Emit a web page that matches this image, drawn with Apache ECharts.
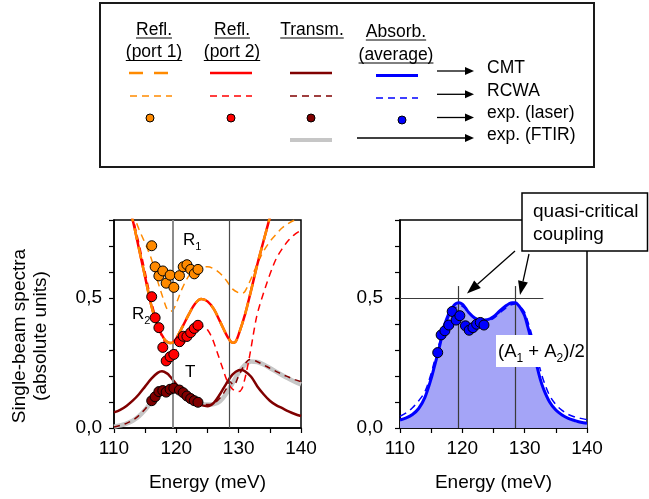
<!DOCTYPE html>
<html>
<head>
<meta charset="utf-8">
<script src="https://cdn.jsdelivr.net/npm/echarts@6/dist/echarts.min.js"></script>
<style>
html, body { margin: 0; padding: 0; background: #fff; }
#chart { width: 649px; height: 499px; }
</style>
</head>
<body>
<div id="chart"></div>
<script>
// ---------- spectra (energy in meV, single-beam values) ----------
// Reflection, coupled-mode theory (same curve for port 1 and port 2)
const rCmtE = [110,111,112,113,114,115,116,117,118,118.5,119,119.5,120,121,122,123,124,125,126,127,128,128.5,129,129.5,130,131,132,133,134,135,136];
const rCmtV = [1.05,0.97,0.89,0.80,0.69,0.58,0.47,0.39,0.345,0.332,0.327,0.330,0.345,0.39,0.437,0.478,0.496,0.487,0.458,0.41,0.36,0.34,0.328,0.332,0.36,0.435,0.53,0.63,0.72,0.81,0.90];

// Reflection port 1, RCWA
const r1RcwaE = [110,111,112,113,114,115,116,117,118,118.5,119,119.5,120,121,122,123,124,125,126,127,128,129,130,130.5,131,132,133,134,135,136,137,138,139,140];
const r1RcwaV = [1.05,0.97,0.90,0.83,0.765,0.71,0.65,0.565,0.49,0.458,0.448,0.455,0.48,0.54,0.585,0.61,0.618,0.62,0.612,0.595,0.568,0.535,0.52,0.518,0.525,0.575,0.632,0.68,0.717,0.745,0.77,0.787,0.80,0.81];

// Reflection port 2, RCWA
const r2RcwaE = [110,111,112,113,114,115,116,117,118,119,119.5,120,121,122,123,124,124.5,125,125.5,126,126.5,127,127.5,128,128.5,129,129.5,130,130.5,131,131.5,132,132.5,133,134,135,136,137,138,139,140];
const r2RcwaV = [1.05,0.96,0.89,0.81,0.71,0.60,0.49,0.40,0.335,0.30,0.296,0.30,0.32,0.35,0.375,0.39,0.39,0.378,0.358,0.33,0.295,0.26,0.225,0.19,0.165,0.15,0.142,0.14,0.15,0.19,0.245,0.31,0.38,0.44,0.52,0.59,0.65,0.69,0.722,0.745,0.76];

// Transmission, CMT
const tCmtE = [110,111,112,113,114,115,116,117,117.7,118.5,119,120,121,122,123,124,125,126,127,128,129,130,130.5,131,132,133,134,135,136,137,138,139,140];
const tCmtV = [0.06,0.07,0.085,0.105,0.13,0.16,0.19,0.212,0.218,0.21,0.198,0.168,0.14,0.116,0.098,0.088,0.084,0.097,0.13,0.17,0.205,0.222,0.223,0.218,0.197,0.16,0.13,0.105,0.088,0.076,0.064,0.054,0.046];

// Transmission, RCWA
const tRcwaE = [110,111,112,113,114,115,116,117,118,119,119.5,120,121,122,123,124,125,126,127,128,128.6,129.2,130,131,131.8,132.5,133,134,135,136,137,138,139,140];
const tRcwaV = [0.004,0.01,0.018,0.03,0.048,0.073,0.1,0.125,0.145,0.153,0.155,0.152,0.14,0.124,0.106,0.094,0.09,0.095,0.115,0.15,0.178,0.165,0.2,0.245,0.263,0.26,0.255,0.243,0.23,0.218,0.206,0.196,0.186,0.178];

// Transmission, FTIR measurement
const tFtirE = [110,111,112,113,114,115,116,117,118,119,120,121,122,123,124,125,126,127,128,129,130,131,132,133,134,135,136,137,138,139,140];
const tFtirV = [0.005,0.01,0.017,0.028,0.045,0.07,0.1,0.125,0.143,0.151,0.15,0.14,0.124,0.106,0.094,0.09,0.092,0.103,0.132,0.172,0.213,0.243,0.256,0.254,0.244,0.231,0.217,0.203,0.19,0.178,0.168];

// Laser measurements
const laserE  = [116.05,116.6,117.2,117.83,118.37,119.0,119.6,120.5,121.1,121.7,122.3,122.88,123.47];
const laserR1 = [0.701,0.62,0.585,0.604,0.557,0.588,0.541,0.586,0.62,0.628,0.61,0.593,0.61];
const laserR2 = [0.505,0.424,0.386,0.31,0.258,0.274,0.283,0.332,0.353,0.352,0.367,0.383,0.395];
const laserT  = [0.105,0.12,0.14,0.144,0.138,0.149,0.153,0.146,0.136,0.123,0.113,0.105,0.099];
const laserA  = [0.29,0.358,0.374,0.396,0.448,0.415,0.432,0.393,0.376,0.386,0.399,0.406,0.396];

// Averaged absorption (A1 + A2)/2
const aE = [110,111,112,113,114,115,115.5,116,116.5,117,117.5,118,118.5,119,119.5,120,120.5,121,122,123,124,125,126,127,127.5,128,128.5,129,129.5,130,130.5,131,131.5,132,132.5,133,134,135,136,137,138,139,140];
const aCmtV  = [0.031,0.039,0.052,0.075,0.118,0.19,0.235,0.28,0.33,0.385,0.42,0.448,0.467,0.479,0.482,0.476,0.462,0.445,0.423,0.415,0.416,0.428,0.45,0.47,0.478,0.482,0.482,0.472,0.455,0.432,0.39,0.345,0.29,0.235,0.188,0.152,0.1,0.069,0.05,0.037,0.029,0.022,0.018];
const aRcwaV = [0.045,0.058,0.078,0.105,0.14,0.21,0.255,0.3,0.34,0.38,0.41,0.435,0.453,0.465,0.47,0.468,0.458,0.443,0.42,0.41,0.412,0.422,0.442,0.462,0.47,0.475,0.477,0.473,0.462,0.445,0.41,0.37,0.32,0.27,0.225,0.185,0.125,0.09,0.068,0.052,0.043,0.037,0.032];

// Resonance positions and guide levels
const resonances = [119.5, 128.5];
const critLevel = 0.5;

// ---------- styling ----------
const FONT = '"Liberation Sans", Arial, Helvetica, sans-serif';
const ORANGE = '#ff8a00', RED = '#ff0000', DARKRED = '#800000', BLUE = '#0000ff';
const GRAY = '#c6c6c6', FILL = '#a4a4f7';

const pairs = (xs, ys) => xs.map((x, i) => [x, ys[i]]);

function xAxisCfg(gridIndex) {
  return {
    type: 'value', gridIndex, min: 110, max: 140, interval: 5,
    name: 'Energy (meV)', nameLocation: 'middle', nameGap: 45,
    nameTextStyle: { fontFamily: FONT, fontSize: 19, color: '#000' },
    axisLine: { show: true, onZero: false, lineStyle: { color: '#000', width: 1.5 } },
    axisTick: { show: true, inside: false, length: 5, lineStyle: { color: '#000', width: 1.2 } },
    axisLabel: { margin: 11, fontFamily: FONT, fontSize: 19, color: '#000',
      formatter: v => (Math.round(v) % 10 === 0 ? String(Math.round(v)) : '') },
    splitLine: { show: false }
  };
}
function yAxisCfg(gridIndex, margin) {
  return {
    type: 'value', gridIndex, min: 0, max: 0.8, interval: 0.1,
    axisLine: { show: true, onZero: false, lineStyle: { color: '#000', width: 1.5 } },
    axisTick: { show: true, inside: false, length: 5, lineStyle: { color: '#000', width: 1.2 } },
    axisLabel: { margin, fontFamily: FONT, fontSize: 19, color: '#000',
      formatter: v => (Math.abs(v) < 1e-6 ? '0,0' : Math.abs(v - 0.5) < 1e-6 ? '0,5' : '') },
    splitLine: { show: false }
  };
}
function lineSeries(axis, xs, ys, color, width, dash, z, extra) {
  return Object.assign({
    type: 'line', xAxisIndex: axis, yAxisIndex: axis,
    data: pairs(xs, ys), showSymbol: false, symbol: 'none', smooth: 0.35,
    lineStyle: { color, width, type: dash || 'solid' }, z, silent: true
  }, extra || {});
}
function dotSeries(axis, ys, color) {
  return {
    type: 'scatter', xAxisIndex: axis, yAxisIndex: axis, data: pairs(laserE, ys),
    symbol: 'circle', symbolSize: 10, z: 8, silent: true,
    itemStyle: { color, borderColor: '#000', borderWidth: 1, opacity: 1 }
  };
}
const vline = (x, top, color, width) => [
  { coord: [x, 0], lineStyle: { color, width, type: 'solid' } },
  { coord: [x, top] }
];
const markLineBase = { silent: true, symbol: ['none', 'none'], label: { show: false }, animation: false };

// ---------- annotation helpers ----------
const measureCtx = document.createElement('canvas').getContext('2d');
function textWidth(str, size) {
  measureCtx.font = size + 'px "Liberation Sans", Arial, sans-serif';
  return measureCtx.measureText(str).width;
}
function text(str, x, y, size, align, extra) {
  return Object.assign({
    type: 'text', x, y, z: 100, silent: true,
    style: { text: str, fill: '#000', fontSize: size, fontFamily: FONT,
      align: align || 'left', textAlign: align || 'left',
      verticalAlign: 'middle', textVerticalAlign: 'middle' }
  }, extra || {});
}
function seg(x1, y1, x2, y2, stroke, lineWidth, dash) {
  return { type: 'line', z: 100, silent: true, shape: { x1, y1, x2, y2 },
    style: { stroke, lineWidth, lineDash: dash || null } };
}
function arrow(x1, y1, x2, y2, len, half) {
  const a = Math.atan2(y2 - y1, x2 - x1);
  const bx = x2 - len * Math.cos(a), by = y2 - len * Math.sin(a);
  const px = -Math.sin(a) * half, py = Math.cos(a) * half;
  return [
    seg(x1, y1, bx, by, '#000', 1.3),
    { type: 'polygon', z: 100, silent: true,
      shape: { points: [[x2, y2], [bx + px, by + py], [bx - px, by - py]] },
      style: { fill: '#000' } }
  ];
}
function dot(cx, cy, fill) {
  return { type: 'circle', z: 100, silent: true, shape: { cx, cy, r: 4 },
    style: { fill, stroke: '#000', lineWidth: 1 } };
}
function underlined(str, cx, cy, size) {
  const w = textWidth(str, size);
  return [text(str, cx, cy, size, 'center'), seg(cx - w / 2, cy + 8, cx + w / 2, cy + 8, '#000', 1)];
}
function subscripted(parts, x, y, size, subSize, lh, subLh) {
  return {
    type: 'text', x, y, z: 101, silent: true,
    style: {
      text: parts.map(p => (p[1] ? '{s|' + p[0] + '}' : '{n|' + p[0] + '}')).join(''),
      align: 'left', textAlign: 'left', verticalAlign: 'middle', textVerticalAlign: 'middle',
      rich: {
        n: { fontSize: size, fontFamily: FONT, color: '#000', lineHeight: lh },
        s: { fontSize: subSize, fontFamily: FONT, color: '#000', lineHeight: subLh, verticalAlign: 'bottom' }
      }
    }
  };
}

// ---------- legend panel ----------
const LF = 17.5;
const legend = [
  { type: 'rect', z: 99, silent: true, shape: { x: 100, y: 3, width: 494, height: 164 },
    style: { fill: '#fff', stroke: '#1a1a1a', lineWidth: 2 } },
  ...underlined('Refl.', 154, 30, LF), ...underlined('(port 1)', 154, 52.5, LF),
  ...underlined('Refl.', 232, 30, LF), ...underlined('(port 2)', 232, 52.5, LF),
  ...underlined('Transm.', 312, 30, LF),
  ...underlined('Absorb.', 396, 32, LF), ...underlined('(average)', 396, 55, LF),
  // CMT row
  seg(129, 73, 168, 73, ORANGE, 2.5, [14, 11]),
  seg(210, 73, 252, 73, RED, 2.5),
  seg(290, 73, 332, 73, DARKRED, 2.5),
  seg(376, 75.5, 418, 75.5, BLUE, 3),
  // RCWA row
  seg(130, 96, 172, 96, ORANGE, 1.5, [7, 5]),
  seg(210, 96, 252, 96, RED, 1.5, [7, 5]),
  seg(290, 96, 332, 96, DARKRED, 1.5, [7, 5]),
  seg(376, 98, 418, 98, BLUE, 1.5, [7, 5]),
  // laser row
  dot(150, 118, ORANGE), dot(231, 118, RED), dot(311, 118, DARKRED), dot(402, 120, BLUE),
  // FTIR row
  seg(290, 140, 332, 140, GRAY, 4),
  ...arrow(437, 71, 474, 71, 9, 4),
  ...arrow(437, 94.3, 474, 94.3, 9, 4),
  ...arrow(437, 117.5, 474, 117.5, 9, 4),
  ...arrow(357, 138, 474, 138, 9, 4),
  text('CMT', 487, 68.5, LF), text('RCWA', 487, 91, LF),
  text('exp. (laser)', 487, 113.5, LF), text('exp. (FTIR)', 487, 135.5, LF)
];

// ---------- plot annotations ----------
const notes = [
  text('Single-beam spectra\n(absolute units)', 30.5, 336, 19, 'center',
    { rotation: Math.PI / 2, style: { text: 'Single-beam spectra\n(absolute units)', fill: '#000',
      fontSize: 19, fontFamily: FONT, lineHeight: 21, align: 'center', textAlign: 'center',
      verticalAlign: 'middle', textVerticalAlign: 'middle' } }),
  subscripted([['R', 0], ['1', 1]], 183, 240, 17, 11, 24, 7),
  subscripted([['R', 0], ['2', 1]], 132, 314, 17, 11, 24, 7),
  text('T', 185, 372.5, 17),
  { type: 'rect', z: 99, silent: true, shape: { x: 522, y: 193, width: 125.5, height: 58 },
    style: { fill: '#fff', stroke: '#000', lineWidth: 1.5 } },
  text('quasi-critical\ncoupling', 533, 223.5, 19, 'left',
    { style: { text: 'quasi-critical\ncoupling', fill: '#000', fontSize: 19, fontFamily: FONT,
      lineHeight: 23, align: 'left', textAlign: 'left', verticalAlign: 'middle', textVerticalAlign: 'middle' } }),
  ...arrow(515, 251, 467, 293.5, 14, 5),
  ...arrow(529, 254, 520, 295, 14, 5),
  { type: 'rect', z: 99, silent: true, shape: { x: 496, y: 335, width: 90, height: 32 },
    style: { fill: '#fff', stroke: null } },
  subscripted([['(A', 0], ['1', 1], [' + A', 0], ['2', 1], [')/2', 0]], 498, 351.5, 18.5, 12, 26, 8)
];

// ---------- chart ----------
const chart = echarts.init(document.getElementById('chart'), null, { renderer: 'canvas' });
chart.setOption({
  animation: false,
  backgroundColor: '#fff',
  grid: [
    { left: 114, top: 220, width: 187, height: 208, show: true, borderColor: '#000', borderWidth: 1.5, backgroundColor: 'transparent' },
    { left: 400, top: 220, width: 187, height: 208, show: true, borderColor: '#000', borderWidth: 1.5, backgroundColor: 'transparent' }
  ],
  xAxis: [xAxisCfg(0), xAxisCfg(1)],
  yAxis: [yAxisCfg(0, 12), yAxisCfg(1, 17)],
  series: [
    // left panel: reflection and transmission
    lineSeries(0, tFtirE, tFtirV, GRAY, 4.5, 'solid', 2, {
      markLine: Object.assign({}, markLineBase, { data: [
        vline(resonances[0], 0.8, '#8c8c8c', 2),
        vline(resonances[1], 0.8, '#4a4a4a', 1.2)
      ] })
    }),
    lineSeries(0, tCmtE, tCmtV, DARKRED, 2.5, 'solid', 3),
    lineSeries(0, tRcwaE, tRcwaV, DARKRED, 1.5, [6, 5], 4),
    lineSeries(0, r1RcwaE, r1RcwaV, ORANGE, 1.5, [7, 5], 4),
    lineSeries(0, r2RcwaE, r2RcwaV, RED, 1.5, [7, 5], 4),
    lineSeries(0, rCmtE, rCmtV, RED, 2.5, 'solid', 5),
    lineSeries(0, rCmtE, rCmtV, ORANGE, 2.5, [12, 7], 6),
    dotSeries(0, laserR1, ORANGE),
    dotSeries(0, laserR2, RED),
    dotSeries(0, laserT, DARKRED),
    // right panel: averaged absorption
    lineSeries(1, aE, aCmtV, FILL, 0, 'solid', 1, {
      areaStyle: { color: FILL, opacity: 1 },
      markLine: Object.assign({}, markLineBase, { data: [
        vline(resonances[0] - 0.1, 0.546, '#3a3a3a', 1.2),
        vline(resonances[1], 0.546, '#3a3a3a', 1.2),
        [ { coord: [110, critLevel], lineStyle: { color: '#3a3a3a', width: 1.2, type: 'solid' } },
          { coord: [133, critLevel] } ]
      ] })
    }),
    lineSeries(1, aE, aRcwaV, BLUE, 1.5, [7, 5], 4),
    lineSeries(1, aE, aCmtV, BLUE, 3, 'solid', 5),
    dotSeries(1, laserA, BLUE)
  ],
  graphic: { elements: legend.concat(notes) }
});
</script>
</body>
</html>
